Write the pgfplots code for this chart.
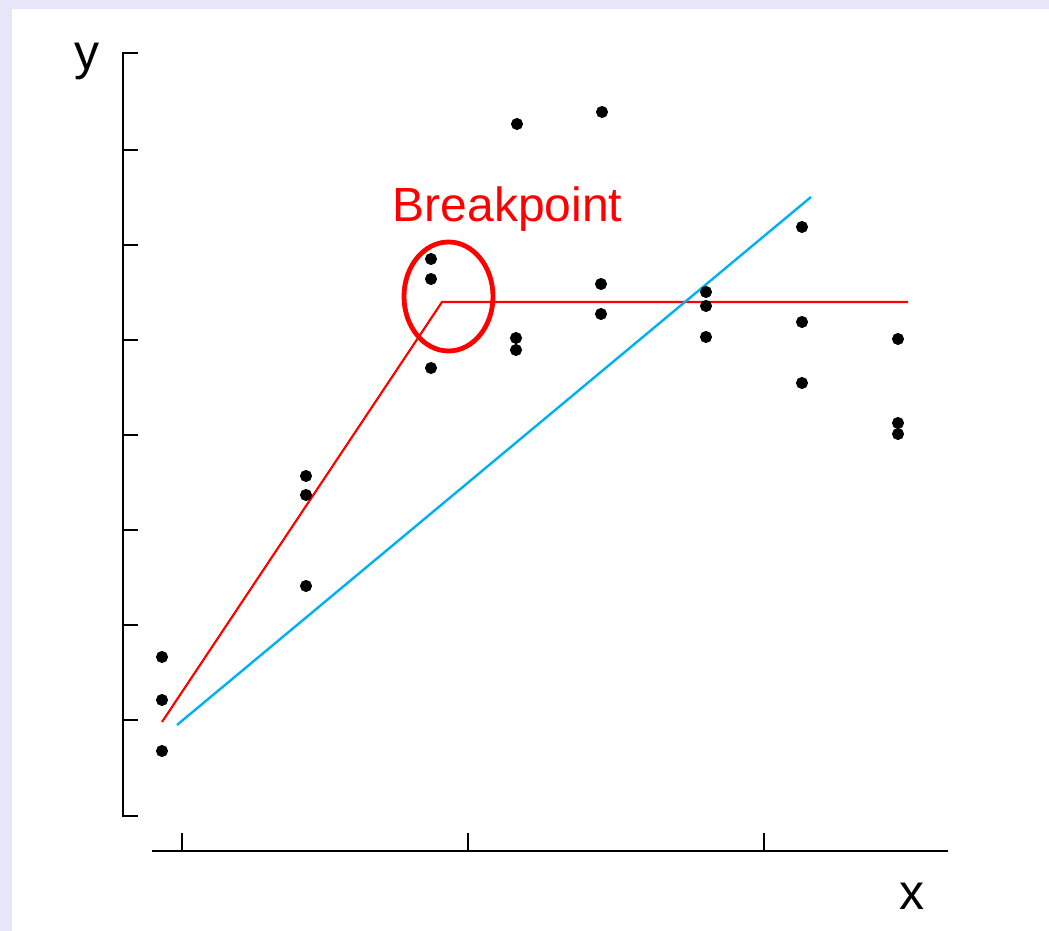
\documentclass[border=0pt]{standalone}
\usepackage{pgfplots}
\pgfplotsset{compat=1.18}
\usepackage{fontspec}
\setmainfont{Liberation Sans}
\definecolor{framebg}{RGB}{230,230,248}
\definecolor{fitblue}{RGB}{0,176,240}

% observations, in picture units (x right, y up)
\pgfplotstableread{
x   y
162 274
162 231
162 180
306 455
306 436
306 345
431 672
431 652
431 563
517 807
516 593
516 581
602 819
601 647
601 617
706 639
706 625
706 594
802 704
802 609
802 548
898 592
898 508
898 497
}\obs

\begin{document}
\begin{tikzpicture}
\begin{axis}[
    scale only axis,
    width=524.5pt,
    height=465.5pt,
    xmin=0, xmax=1049,
    ymin=0, ymax=931,
    axis lines=none,
    clip=false,
]
% background and frame
\fill[framebg] (axis cs:0,0) rectangle (axis cs:1049,931);
\fill[white] (axis cs:12,0) rectangle (axis cs:1049,922);

% detached y axis
\draw[line width=1.2pt] (axis cs:138,878) -- (axis cs:123,878) -- (axis cs:123,115) -- (axis cs:138,115);
\draw[line width=1.2pt] (axis cs:123,781) -- (axis cs:138,781);
\draw[line width=1.2pt] (axis cs:123,686) -- (axis cs:138,686);
\draw[line width=1.2pt] (axis cs:123,591) -- (axis cs:138,591);
\draw[line width=1.2pt] (axis cs:123,496) -- (axis cs:138,496);
\draw[line width=1.2pt] (axis cs:123,401) -- (axis cs:138,401);
\draw[line width=1.2pt] (axis cs:123,306) -- (axis cs:138,306);
\draw[line width=1.2pt] (axis cs:123,211) -- (axis cs:138,211);

% detached x axis
\draw[line width=1.2pt] (axis cs:152,80) -- (axis cs:948,80);
\draw[line width=1.2pt] (axis cs:182,80) -- (axis cs:182,98);
\draw[line width=1.2pt] (axis cs:468,80) -- (axis cs:468,98);
\draw[line width=1.2pt] (axis cs:764,80) -- (axis cs:764,98);

\addplot[only marks, mark=*, mark size=2.8pt, black] table[x=x, y=y] {\obs};

% piecewise fit
\addplot[red, line width=1.1pt] coordinates {(162,209) (442,629) (908,629)};
% single linear fit
\addplot[fitblue, line width=1.2pt] coordinates {(177,206) (811,734)};

\draw[red, line width=2.4pt] (axis cs:448.5,634.5) ellipse [x radius=22.25pt, y radius=27.25pt];
\node[red, anchor=base, font=\fontsize{24}{28}\selectfont] at (axis cs:507.5,709) {Breakpoint};

\node[anchor=base, font=\fontsize{25}{30}\selectfont] at (axis cs:86.5,861) {y};
\node[anchor=base, font=\fontsize{25}{30}\selectfont] at (axis cs:912,21) {x};
\end{axis}
\end{tikzpicture}
\end{document}
